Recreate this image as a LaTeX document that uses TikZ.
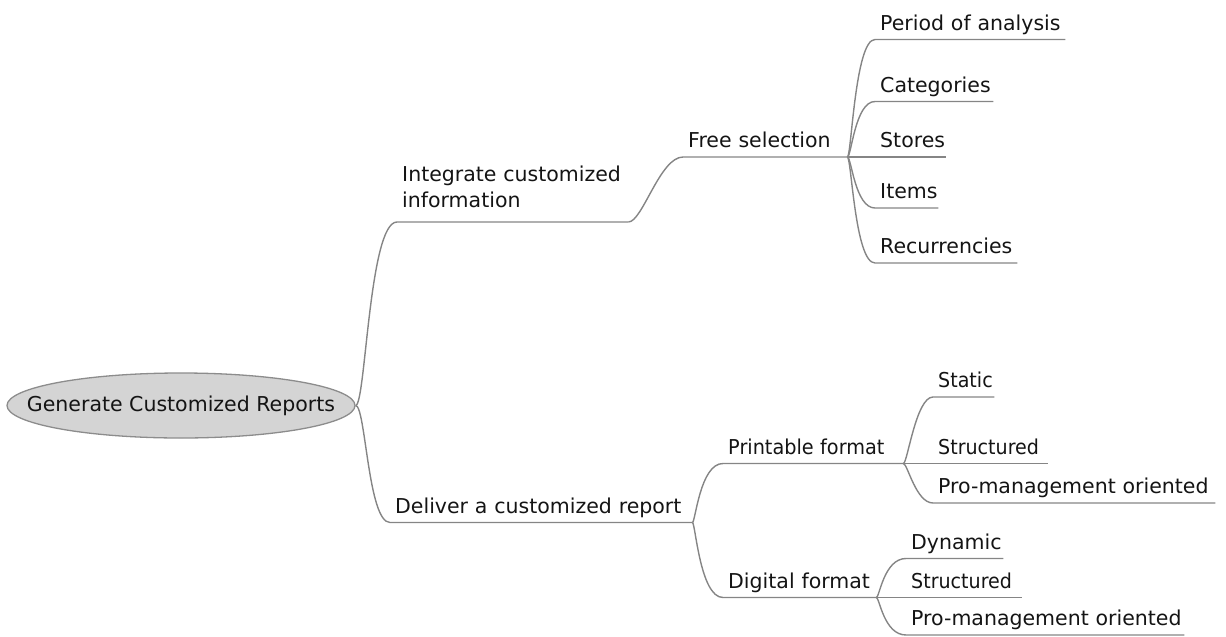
\documentclass[tikz,border=0pt]{standalone}
\usepackage{fontspec}
\usepackage{graphicx}
\setmainfont{DejaVu Sans}
\usetikzlibrary{calc,shapes.geometric}
\definecolor{linegray}{HTML}{858585}
\definecolor{rootfill}{HTML}{D4D4D4}
\definecolor{rootedge}{HTML}{8C8C8C}
\definecolor{inkcol}{HTML}{141414}
% slightly condensed label text
\newcommand{\tight}[2][0.93]{\scalebox{#1}[1]{#2}}
\begin{document}
\begin{tikzpicture}[x=1pt, y=-1pt,
  topicbase/.style={anchor=south west, inner xsep=5pt, inner ysep=0pt,
    text depth=9pt, align=left, text width=#1, text=inkcol,
    font=\fontsize{20.5pt}{26pt}\selectfont},
  topic/.style={topicbase=#1, execute at begin node=\hbox\bgroup,
    execute at end node=\egroup},
  centraltopic/.style={ellipse, draw=rootedge, fill=rootfill, line width=1.3pt,
    minimum width=348pt, minimum height=65pt, inner sep=0pt, text=inkcol,
    font=\fontsize{20.5pt}{26pt}\selectfont},
  conn/.style={draw=linegray, line width=1.4pt},
  branch/.style 2 args={to path={.. controls ($(\tikztostart)+(#1,0)$)
    and ($(\tikztotarget)+(-#2,0)$) .. (\tikztotarget)}}]
\useasboundingbox (0,0) rectangle (1226,637);

% central topic
\node[centraltopic] (root) at (181,405.5) {\makebox[0pt]{Generate Customized Reports}};

% first level
\node[topicbase=221pt, text depth=40pt] (int) at (397,222) {Integrate customized\\information};
\node[topic=292pt] (deliver) at (390,522.5) {Deliver a customized report};

% second level
\node[topic=154pt] (free) at (683,157) {Free selection};
\node[topic=170pt] (print) at (723,463.5) {\tight[0.94]{Printable format}};
\node[topic=143pt] (digital) at (723,597.5) {Digital format};

% free selection leaves
\node[topic=180pt] (period) at (875,39.5) {Period of analysis};
\node[topic=108pt] (cat) at (875,101.5) {Categories};
\node[topic=61pt] (stores) at (875,157) {Stores};
\node[topic=53pt] (items) at (875,208) {Items};
\node[topic=132pt] (recur) at (875,263) {Recurrencies};

% printable format leaves
\node[topic=51pt] (static) at (933,397) {\tight{Static}};
\node[topic=105pt] (pstruct) at (933,463.5) {\tight{Structured}};
\node[topic=272pt] (ppro) at (933,503) {Pro-management oriented};

% digital format leaves
\node[topic=87pt] (dynamic) at (906,558.5) {Dynamic};
\node[topic=106pt] (dstruct) at (906,597.5) {\tight{Structured}};
\node[topic=268pt] (dpro) at (906,635) {Pro-management oriented};

% connectors with underlines
\draw[conn] (root.east) to[branch={10}{28}] (int.south west) -- (int.south east);
\draw[conn] (root.east) to[branch={10}{22}] (deliver.south west) -- (deliver.south east);

\draw[conn] (int.south east) to[branch={14}{23}] (free.south west) -- (free.south east);
\draw[conn] (deliver.south east) to[branch={3}{23}] (print.south west) -- (print.south east);
\draw[conn] (deliver.south east) to[branch={3}{23}] (digital.south west) -- (digital.south east);

\foreach \leaf in {period,cat,stores,items,recur}
  \draw[conn] (free.south east) to[branch={4}{20}] (\leaf.south west) -- (\leaf.south east);
\foreach \leaf in {static,pstruct,ppro}
  \draw[conn] (print.south east) to[branch={4}{17}] (\leaf.south west) -- (\leaf.south east);
\foreach \leaf in {dynamic,dstruct,dpro}
  \draw[conn] (digital.south east) to[branch={3}{22}] (\leaf.south west) -- (\leaf.south east);
\end{tikzpicture}
\end{document}
